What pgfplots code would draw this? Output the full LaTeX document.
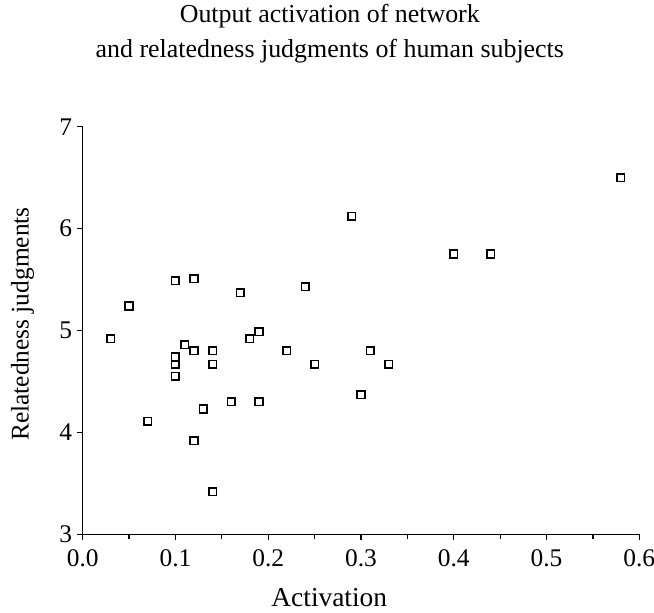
\documentclass[border=0pt]{standalone}
\usepackage{fontspec}
\setmainfont{Liberation Serif}
\usepackage{pgfplots}
\usepackage{pgfplotstable}
\pgfplotsset{compat=1.18}

% activation of network vs. mean relatedness judgment
\pgfplotstableread{
x     y
0.03  4.92
0.05  5.24
0.07  4.11
0.10  5.49
0.10  4.74
0.10  4.67
0.10  4.55
0.11  4.86
0.12  5.51
0.12  4.80
0.12  3.92
0.13  4.23
0.14  4.80
0.14  4.67
0.14  3.42
0.16  4.30
0.17  5.37
0.18  4.92
0.19  4.99
0.19  4.30
0.22  4.80
0.24  5.43
0.25  4.67
0.29  6.12
0.30  4.37
0.31  4.80
0.33  4.67
0.40  5.75
0.44  5.75
0.58  6.50
}\activation

\begin{document}
\begin{tikzpicture}
\useasboundingbox (-82.7bp,-78.7bp) rectangle (571.3bp,534.3bp);
\begin{axis}[
    at={(0,0)}, anchor=south west,
    scale only axis, width=556.6bp, height=407.6bp,
    xmin=0, xmax=0.6, ymin=3, ymax=7,
    axis lines*=left,
    axis line style={line width=1.2bp},
    xtick={0,0.1,0.2,0.3,0.4,0.5,0.6},
    minor xtick={0.05,0.15,0.25,0.35,0.45,0.55},
    ytick={3,4,5,6,7},
    tick align=outside,
    tick style={black, line width=1.2bp},
    major tick length=6bp, minor tick length=5bp,
    /pgf/number format/assume math mode=true,
    ticklabel style={font=\fontsize{25.5}{30}\selectfont},
    xticklabel style={yshift=-6bp,
        /pgf/number format/.cd, fixed, fixed zerofill, precision=1},
    yticklabel style={xshift=-1bp},
    xlabel={Activation},
    ylabel={Relatedness judgments},
    xlabel style={at={(axis description cs:0.443,-0.154)}, anchor=center,
        font=\fontsize{27.5}{30}\selectfont},
    ylabel style={at={(axis description cs:-0.108,0.516)}, anchor=center,
        font=\fontsize{25.5}{30}\selectfont},
    title={Output activation of network\\and relatedness judgments of human subjects},
    title style={at={(axis description cs:0.444,1.213)}, anchor=center,
        align=center, font=\fontsize{26}{35}\selectfont},
]
\addplot[only marks, mark=square, mark size=3.8bp,
    mark options={line width=1.6bp, black}] table {\activation};
\end{axis}
\end{tikzpicture}
\end{document}
